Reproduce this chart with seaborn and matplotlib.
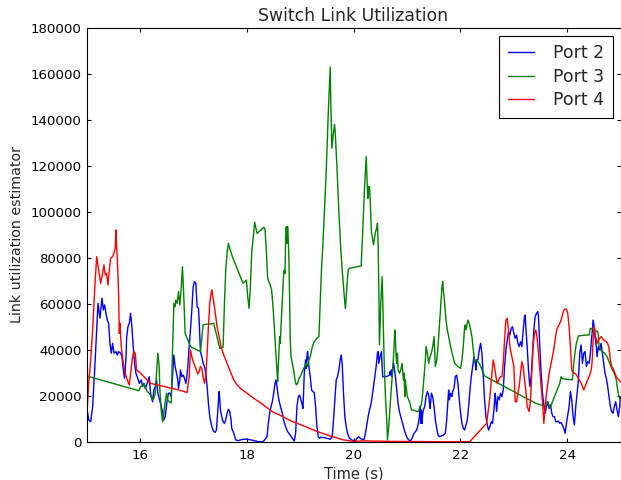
import matplotlib
matplotlib.use("Agg")
import matplotlib.pyplot as plt
import seaborn as sns

# ---------------- data ----------------
port2_t = [15.003, 15.04, 15.078, 15.115, 15.153, 15.19, 15.215, 15.252, 15.29, 15.315, 15.34, 15.364, 15.389, 15.414, 15.439, 15.464, 15.489, 15.514, 15.551, 15.576, 15.601, 15.639, 15.664, 15.689, 15.713, 15.738, 15.751, 15.776, 15.801, 15.826, 15.85, 15.875, 15.9, 15.925, 15.95, 15.988, 16.025, 16.05, 16.075, 16.1, 16.137, 16.174, 16.199, 16.237, 16.262, 16.287, 16.312, 16.336, 16.386, 16.424, 16.449, 16.474, 16.511, 16.536, 16.561, 16.586, 16.611, 16.636,
           16.66, 16.685, 16.71, 16.723, 16.748, 16.76, 16.785, 16.81, 16.835, 16.86, 16.872, 16.897, 16.922, 16.947, 16.972, 16.997, 17.022, 17.047, 17.06, 17.072, 17.097, 17.109, 17.134, 17.159, 17.184, 17.209, 17.234, 17.259, 17.283, 17.308, 17.333, 17.358, 17.383, 17.408, 17.433, 17.458, 17.483, 17.495, 17.508, 17.533, 17.558, 17.583, 17.607, 17.632, 17.657, 17.682, 17.707, 17.72, 17.757, 17.794, 17.844, 17.882, 17.944, 18.006, 18.081, 18.131, 18.193, 18.268, 18.318,
           18.38, 18.405, 18.43, 18.455, 18.48, 18.505, 18.53, 18.548, 18.567, 18.592, 18.617, 18.642, 18.667, 18.692, 18.717, 18.741, 18.766, 18.816, 18.854, 18.891, 18.916, 18.941, 18.966, 18.991, 19.016, 19.04, 19.053, 19.065, 19.078, 19.103, 19.115, 19.128, 19.14, 19.153, 19.165, 19.19, 19.215, 19.24, 19.265, 19.29, 19.315, 19.34, 19.364, 19.389, 19.439, 19.502, 19.564, 19.601, 19.626, 19.651, 19.676, 19.701, 19.726, 19.751, 19.769, 19.788, 19.813, 19.838, 19.863, 19.888, 19.925, 19.963, 20.0, 20.037, 20.062, 20.1,
           20.125, 20.162, 20.2, 20.224, 20.249, 20.274, 20.299, 20.324, 20.349, 20.374, 20.399, 20.424, 20.449, 20.461, 20.474, 20.486, 20.498, 20.523, 20.536, 20.548, 20.598, 20.648, 20.673, 20.685, 20.698, 20.71, 20.723, 20.735, 20.748, 20.76, 20.785, 20.81, 20.835, 20.86, 20.885, 20.91, 20.935, 20.96, 20.984, 21.009, 21.034, 21.059, 21.084, 21.109, 21.134, 21.159, 21.184, 21.209, 21.234, 21.246, 21.259, 21.271, 21.284, 21.296, 21.309, 21.333, 21.358, 21.383, 21.408, 21.433, 21.445, 21.458, 21.483, 21.508, 21.533, 21.558, 21.583, 21.607, 21.645, 21.682, 21.72, 21.745, 21.77,
           21.782, 21.794, 21.819, 21.844, 21.857, 21.882, 21.907, 21.931, 21.956, 21.981, 22.006, 22.031, 22.056, 22.081, 22.106, 22.131, 22.156, 22.181, 22.206, 22.231, 22.255, 22.28, 22.293, 22.305, 22.33, 22.355, 22.38, 22.405, 22.43, 22.455, 22.48, 22.505, 22.53, 22.555, 22.58, 22.604, 22.629, 22.654, 22.667, 22.679, 22.704, 22.729, 22.754, 22.779, 22.804, 22.829, 22.854, 22.879, 22.903, 22.928, 22.953, 22.978, 23.003, 23.028, 23.053, 23.078, 23.103, 23.128, 23.153, 23.178, 23.202, 23.215, 23.227, 23.252, 23.277, 23.302, 23.327, 23.352, 23.377, 23.402, 23.427, 23.451,
           23.464, 23.489, 23.514, 23.539, 23.564, 23.589, 23.614, 23.639, 23.664, 23.688, 23.713, 23.738, 23.763, 23.788, 23.813, 23.838, 23.863, 23.888, 23.913, 23.938, 23.963, 23.988, 24.012, 24.037, 24.062, 24.087, 24.112, 24.137, 24.162, 24.187, 24.212, 24.237, 24.262, 24.287, 24.312, 24.336, 24.361, 24.386, 24.411, 24.436, 24.461, 24.474, 24.486, 24.511, 24.523, 24.548, 24.561, 24.586, 24.611, 24.636, 24.66, 24.685, 24.71, 24.735, 24.76, 24.785, 24.81, 24.835, 24.86, 24.885, 24.91, 24.935, 24.96, 24.984, 24.998]
port2_v = [15400, 9600, 8800, 15400, 31300, 48700, 60300, 53800, 62500, 57400, 59600, 55900, 53000, 51600, 42900, 38600, 42900, 38600, 39300, 37800, 39300, 38600, 37100, 31300, 27700, 35700, 45100, 50100, 51600, 55900, 50100, 41500, 34200, 29900, 28400, 25500, 27000, 24100, 25500, 23300, 25500, 28400, 21200, 17500, 22600, 24100, 27000, 21200, 16800, 13200, 9600, 11000, 18300, 21200, 21200, 19700, 28400, 37800,
           32800, 29900, 27000, 23300, 27000, 31300, 28400, 29100, 27700, 25500, 27000, 32800, 41500, 48700, 57400, 67500, 69700, 69000, 63900, 58800, 58100, 53000, 39300, 37100, 34200, 32800, 29900, 24100, 16800, 11000, 8100, 5900, 4500, 4200, 5200, 13900, 21900, 19000, 13900, 11000, 8800, 8100, 9600, 12500, 14200, 13200, 9600, 5900, 3800, 900, 600, 900, 1200, 1200, 900, 600, 300, 0, 400,
           2300, 8100, 12500, 15400, 17500, 21200, 25500, 27000, 24100, 19700, 16800, 14600, 12500, 9600, 7400, 5900, 4500, 3000, 1600, 400, 3800, 15400, 19700, 20400, 18300, 16100, 14600, 21200, 29900, 35700, 32000, 37100, 39300, 35700, 32800, 28400, 22600, 21900, 21500, 15400, 6700, 2300, 1600, 2000, 2000, 1600, 1200, 2300, 9600, 18300, 27000, 28400, 31300, 35700, 37800, 34200, 21200, 11000, 6700, 3800, 1600, 900, 600, 400, 1600, 2300,
           1600, 1200, 1200, 3800, 7400, 11000, 13900, 16100, 19700, 24100, 28400, 32800, 38600, 39300, 34200, 35700, 37100, 39300, 32800, 28400, 28400, 28700, 29100, 30600, 29100, 31300, 28400, 32800, 34200, 32800, 28400, 22600, 16800, 13200, 11000, 8800, 6700, 4500, 3000, 1600, 900, 600, 900, 2300, 3800, 4500, 5200, 7400, 11000, 15400, 8100, 13900, 8100, 12500, 13900, 15400, 19700, 21900, 20400, 14600, 17500, 21200, 19700, 15400, 9600, 5900, 3000, 2300, 2600, 3000, 3800, 9600, 18300,
           22600, 18300, 21200, 19700, 21900, 23300, 28400, 29100, 25500, 18300, 12500, 8100, 5900, 5200, 7400, 9600, 15400, 22600, 28400, 32800, 37100, 34200, 31300, 35700, 35700, 40000, 42900, 38600, 28400, 18300, 11000, 7400, 5200, 6700, 8800, 8100, 13900, 21200, 17500, 13200, 19700, 18300, 21200, 19700, 22600, 32800, 40000, 44300, 48000, 46500, 49400, 50100, 47200, 45100, 46500, 42900, 41500, 43600, 41500, 48700, 54500, 55200, 50100, 41500, 31300, 24100, 28400, 38600, 48700, 54500, 55900, 56700,
           54500, 41500, 29900, 21200, 16100, 12500, 15400, 17500, 14600, 16100, 12500, 11000, 11000, 8800, 8800, 9100, 8100, 8400, 7400, 5900, 3800, 8100, 11700, 15400, 21900, 18300, 11000, 7400, 15400, 21200, 27000, 38600, 42200, 34200, 38600, 39300, 32800, 34900, 34200, 38600, 45800, 48700, 53000, 50100, 45800, 41500, 37100, 41500, 40000, 42900, 38600, 34200, 29900, 27700, 24100, 19700, 15400, 13200, 12500, 15400, 17500, 13900, 11000, 15400, 19700]

port3_t = [15.003, 15.981, 16.012, 16.05, 16.075, 16.112, 16.137, 16.174, 16.199, 16.237, 16.262, 16.287, 16.312, 16.336, 16.361, 16.374, 16.399, 16.424, 16.449, 16.474, 16.499, 16.524, 16.548, 16.586, 16.611,
           16.636, 16.66, 16.673, 16.698, 16.723, 16.748, 16.773, 16.797, 16.822, 16.847, 16.885, 16.947, 17.009, 17.072, 17.134, 17.159, 17.184, 17.234, 17.321, 17.383, 17.421, 17.458, 17.495, 17.558, 17.583, 17.607, 17.632, 17.657, 17.682, 17.732, 17.782, 17.832, 17.882, 17.931, 17.969, 17.994, 18.019, 18.044, 18.069, 18.093, 18.118, 18.15, 18.193, 18.231, 18.268, 18.318, 18.343, 18.368, 18.393,
           18.43, 18.467, 18.492, 18.517, 18.542, 18.567, 18.579, 18.592, 18.617, 18.629, 18.642, 18.667, 18.692, 18.704, 18.717, 18.729, 18.741, 18.754, 18.766, 18.779, 18.791, 18.804, 18.816, 18.829, 18.854, 18.879, 18.904, 18.929, 18.954, 18.979, 19.003, 19.028, 19.065, 19.09, 19.115, 19.14, 19.165, 19.19, 19.215, 19.24, 19.265, 19.29, 19.315, 19.352,
           19.377, 19.402, 19.427, 19.489, 19.526, 19.551, 19.564, 19.576, 19.595, 19.626, 19.645, 19.657, 19.688, 19.726, 19.757, 19.788, 19.813, 19.838, 19.85, 19.875, 19.9, 19.925, 20.0, 20.062, 20.143, 20.174, 20.206, 20.237, 20.25, 20.268, 20.28, 20.299, 20.312, 20.336, 20.374, 20.411, 20.436, 20.449, 20.461,
           20.474, 20.486, 20.511, 20.536, 20.548, 20.573, 20.598, 20.623, 20.636, 20.66, 20.685, 20.71, 20.735, 20.76, 20.773, 20.785, 20.798, 20.81, 20.822, 20.835, 20.86, 20.885, 20.91, 20.935, 20.947, 20.96, 20.972, 20.984, 21.009, 21.034, 21.059, 21.084, 21.121, 21.159, 21.221, 21.246, 21.271, 21.296, 21.321, 21.346, 21.358, 21.383, 21.408, 21.433, 21.458, 21.483, 21.508, 21.533, 21.558, 21.583, 21.607, 21.632, 21.657, 21.67, 21.682, 21.707, 21.732, 21.757,
           21.782, 21.832, 21.894, 21.956, 22.006, 22.031, 22.056, 22.081, 22.093, 22.106, 22.118, 22.143, 22.168, 22.193, 22.218, 22.243, 22.268, 22.293, 22.33, 22.355, 22.38, 22.405, 22.43, 22.455,
           23.29, 23.414, 23.539, 23.589, 23.614, 23.639, 23.664, 23.688, 23.713, 23.738, 23.788, 23.838, 23.863, 23.888, 23.913, 24.1, 24.125, 24.15, 24.174, 24.212, 24.361, 24.411, 24.436, 24.536, 24.573, 24.586, 24.598, 24.648, 24.698, 24.748, 24.798, 24.847, 24.885, 24.922, 24.947, 24.972, 24.998]
port3_v = [28700, 22300, 24100, 24300, 25500, 23300, 21900, 21200, 20400, 18300, 19000, 21200, 29900, 38600, 32800, 22600, 13900, 8800, 12500, 17500, 21200, 18300, 17500, 17000, 40000,
           60300, 58800, 61700, 60300, 65400, 59600, 66800, 76200, 63200, 47200, 45100, 41500, 40700, 40000, 39300, 45100, 50900, 51200, 51300, 51600, 48000, 44300, 40700, 41200, 60300, 74800, 82000, 86400, 84200, 80600, 77700, 74800, 71900, 69000, 69700, 70400, 63200, 58100, 67500, 82000, 87800, 95500, 90700, 91500, 92200, 93300, 92500, 83000, 71000,
           69000, 66100, 58800, 50100, 40000, 31300, 26200, 32800, 45800, 42900, 50100, 61700, 73300, 74800, 73300, 87800, 93600, 86400, 93600, 87800, 79100, 60300, 44300, 37100, 34200, 31300, 27000, 24800, 25500, 27700, 28400, 29900, 32000, 32800, 34200, 32800, 35700, 37100, 40000, 42200, 43600, 44300, 45100, 45800,
           60300, 76000, 85700, 117500, 142200, 155200, 163000, 146500, 127700, 134900, 138100, 134900, 120400, 100100, 85700, 74800, 67500, 60300, 58100, 67500, 74800, 75500, 75800, 76200, 76500, 92200, 110300, 124100, 116100, 105900, 111000, 111000, 105900, 91300, 85700, 91300, 92900, 95100, 85700,
           67500, 42200, 60300, 71900, 61700, 35700, 19700, 9600, 900, 6700, 15400, 24100, 31300, 41500, 48700, 44300, 37100, 34200, 38600, 31300, 29900, 31300, 34200, 27000, 29900, 19700, 27000, 24100, 19700, 18300, 16800, 13900, 13900, 13500, 13200, 15400, 16100, 21200, 28400, 35700, 41500, 38600, 34200, 37100, 38600, 41500, 45800, 32800, 35700, 41500, 50100, 58800, 67500, 69700, 66100, 60300, 53000, 48700,
           45800, 40000, 34200, 32800, 32000, 35700, 41500, 50100, 50900, 48700, 50100, 53000, 51600, 48700, 45800, 40000, 34900, 35700, 34900, 34200, 32800, 31300, 29900, 28700,
           18300, 16800, 15900, 15400, 17500, 16800, 16100, 14600, 16800, 18300, 21200, 24100, 25500, 28400, 27500, 27000, 34200, 39300, 42900, 46100, 46500, 46500, 49400, 48400, 48000, 46500, 41500, 39300, 38800, 37100, 34200, 31300, 29900, 27000, 22600, 19700, 18300]

port4_t = [15.003, 15.04, 15.078, 15.115, 15.153, 15.19, 15.227, 15.265, 15.302, 15.327, 15.352, 15.377, 15.402, 15.427, 15.452, 15.489, 15.514, 15.539, 15.551, 15.564, 15.576, 15.601, 15.614, 15.626, 15.651, 15.689, 15.726, 15.763, 15.801, 15.826, 15.863, 15.888, 15.913, 15.938, 15.975, 16.012, 16.075, 16.137, 16.199, 16.386, 16.735,
           16.885, 16.922, 16.947, 16.972, 17.009, 17.047, 17.084, 17.109, 17.134, 17.159, 17.184, 17.209, 17.234, 17.259, 17.283, 17.308, 17.333, 17.346, 17.371, 17.396, 17.421, 17.445, 17.483, 17.52, 17.558, 17.583, 17.632, 17.695, 17.757, 17.819, 17.882, 18.006, 18.131, 18.255, 18.318,
           18.442, 18.505, 18.629, 18.816, 19.065, 19.315, 19.564, 19.813, 20.0, 20.2, 20.6, 21.2, 21.7, 22.181,
           22.206, 22.492, 22.517, 22.555, 22.592, 22.617, 22.642, 22.667, 22.692, 22.717, 22.754, 22.779, 22.804, 22.829, 22.854, 22.879, 22.903, 22.928, 22.953, 22.978, 23.003, 23.028, 23.053, 23.078, 23.103, 23.128, 23.153, 23.178, 23.202, 23.227, 23.252, 23.277, 23.29, 23.315, 23.34, 23.364, 23.389, 23.414, 23.439,
           23.464, 23.489, 23.514, 23.539, 23.564, 23.589, 23.614, 23.639, 23.664, 23.688, 23.713, 23.738, 23.763, 23.788, 23.813, 23.838, 23.863, 23.888, 23.913, 23.938, 23.963, 23.988, 24.012, 24.037, 24.062, 24.087, 24.112, 24.162, 24.212, 24.262, 24.312, 24.336, 24.386, 24.436, 24.461, 24.474, 24.486, 24.498, 24.511, 24.523, 24.536, 24.561, 24.586, 24.636, 24.685, 24.735, 24.76, 24.785, 24.81, 24.835, 24.86, 24.885, 24.922, 24.96, 24.998]
port4_v = [9600, 25500, 35700, 48700, 66100, 80600, 74800, 69000, 73300, 77000, 72600, 73300, 68300, 74800, 79900, 80600, 82000, 84200, 92200, 84900, 80600, 64600, 47200, 51600, 41500, 34200, 29900, 27000, 24800, 29900, 37100, 39300, 38600, 31300, 30600, 29900, 28400, 27000, 25500, 24500, 22600,
           21500, 28400, 40000, 37100, 34200, 32000, 29600, 30600, 32800, 32000, 28400, 25500, 28400, 38600, 50100, 60300, 64600, 66100, 62500, 58800, 54500, 50100, 45800, 41500, 38600, 37100, 34200, 30600, 27000, 24800, 23300, 21200, 19000, 17100, 16000,
           13900, 12800, 11600, 9300, 7000, 4600, 2600, 900, 300, 500, 300, 200, 100, 100,
           900, 8100, 12500, 19700, 29900, 35700, 32800, 28400, 25500, 27000, 28400, 28400, 34200, 44300, 53000, 53800, 48700, 41500, 38600, 35700, 32800, 17500, 17500, 21200, 24100, 29900, 34900, 32800, 27000, 22600, 15400, 13900, 13200, 18300, 31300, 41500, 47200, 48700, 45100,
           38600, 31300, 24100, 17500, 8100, 15400, 21200, 25500, 29900, 32800, 35700, 38600, 42200, 46500, 49400, 50400, 51600, 53000, 55200, 57400, 57800, 57700, 55900, 50100, 41500, 31300, 30100, 29600, 27700, 25500, 22600, 24100, 27000, 29900, 32800, 37100, 44300, 48700, 50100, 47200, 45800, 42900, 44300, 45800, 44300, 43600, 42900, 40700, 35700, 32800, 32000, 30600, 28400, 27200, 26200]

series_labels = ["Port 2", "Port 3", "Port 4"]
series_colors = ["blue", "green", "red"]
x_ticks = [16, 18, 20, 22, 24]
y_ticks = list(range(0, 180001, 20000))

# ---------------- style ----------------
sns.set_style("white")
plt.rcParams.update({
    "font.family": ["DejaVu Sans"],
    "axes.edgecolor": "black",
    "axes.linewidth": 0.8,
    "xtick.direction": "in",
    "ytick.direction": "in",
    "xtick.top": True,
    "ytick.right": True,
    "xtick.bottom": True,
    "ytick.left": True,
    "xtick.major.size": 3.2,
    "ytick.major.size": 3.2,
    "xtick.major.width": 0.8,
    "ytick.major.width": 0.8,
    "xtick.color": "black",
    "ytick.color": "black",
    "xtick.labelsize": 9.6,
    "ytick.labelsize": 9.6,
    "xtick.major.pad": 5,
    "ytick.major.pad": 3.5,
})

fig = plt.figure(figsize=(6.21, 4.80), dpi=100)
ax = fig.add_axes([0.1393, 0.0792, 0.8599, 0.8625])

series = [(port2_t, port2_v), (port3_t, port3_v), (port4_t, port4_v)]
for (t, v), lab, col in zip(series, series_labels, series_colors):
    sns.lineplot(x=t, y=v, color=col, label=lab, linewidth=1.0,
                 estimator=None, sort=False, ax=ax, legend=False)

ax.set_xlim(15, 25)
ax.set_ylim(0, 180000)
ax.set_xticks(x_ticks)
ax.set_yticks(y_ticks)
ax.set_xticklabels([str(x) for x in x_ticks])
ax.set_yticklabels([str(y) for y in y_ticks])
for s in ax.spines.values():
    s.set_visible(True)
    s.set_color("black")
    s.set_linewidth(0.8)

ax.set_title("Switch Link Utilization", fontsize=12.4, pad=5)
ax.set_xlabel("Time (s)", fontsize=10.5, labelpad=3)
ax.set_ylabel("Link utilization estimator", fontsize=10.3, labelpad=5)

handles = ax.get_lines()[:3]
leg = ax.legend(handles, series_labels, loc="upper right", fontsize=12.5,
                frameon=True, fancybox=False, framealpha=1.0, edgecolor="black",
                handlelength=1.5, handletextpad=1.1, borderpad=0.5,
                labelspacing=0.3, borderaxespad=0.45)
leg.get_frame().set_linewidth(0.8)

fig.savefig("out.png", dpi=100, facecolor="white")
